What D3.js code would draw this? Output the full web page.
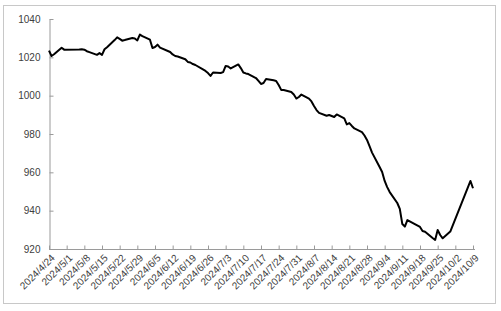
<!DOCTYPE html>
<html>
<head>
<meta charset="utf-8">
<script src="https://cdn.jsdelivr.net/npm/d3@7"></script>
<style>
  html, body { margin: 0; padding: 0; background: #fff; }
  svg { display: block; }
</style>
</head>
<body>
<svg id="chart" width="501" height="311"></svg>
<script>
const dates = [
  "2024-04-24","2024-04-25","2024-04-26","2024-04-29","2024-04-30",
  "2024-05-06","2024-05-07","2024-05-08","2024-05-09","2024-05-10",
  "2024-05-13","2024-05-14","2024-05-15","2024-05-16","2024-05-17",
  "2024-05-20","2024-05-21","2024-05-22","2024-05-23","2024-05-24",
  "2024-05-27","2024-05-28","2024-05-29","2024-05-30","2024-05-31",
  "2024-06-03","2024-06-04","2024-06-05","2024-06-06","2024-06-07",
  "2024-06-11","2024-06-12","2024-06-13","2024-06-14",
  "2024-06-17","2024-06-18","2024-06-19","2024-06-20","2024-06-21",
  "2024-06-24","2024-06-25","2024-06-26","2024-06-27","2024-06-28",
  "2024-07-01","2024-07-02","2024-07-03","2024-07-04","2024-07-05",
  "2024-07-08","2024-07-09","2024-07-10","2024-07-11","2024-07-12",
  "2024-07-15","2024-07-16","2024-07-17","2024-07-18","2024-07-19",
  "2024-07-22","2024-07-23","2024-07-24","2024-07-25","2024-07-26",
  "2024-07-29","2024-07-30","2024-07-31","2024-08-01","2024-08-02",
  "2024-08-05","2024-08-06","2024-08-07","2024-08-08","2024-08-09",
  "2024-08-12","2024-08-13","2024-08-14","2024-08-15","2024-08-16",
  "2024-08-19","2024-08-20","2024-08-21","2024-08-22","2024-08-23",
  "2024-08-26","2024-08-27","2024-08-28","2024-08-29","2024-08-30",
  "2024-09-02","2024-09-03","2024-09-04","2024-09-05","2024-09-06",
  "2024-09-09","2024-09-10","2024-09-11","2024-09-12","2024-09-13",
  "2024-09-18","2024-09-19","2024-09-20",
  "2024-09-23","2024-09-24","2024-09-25","2024-09-26","2024-09-27",
  "2024-09-30","2024-10-08","2024-10-09"
];
const values = [
  1023.5,1020.7,1021.6,1025.0,1024.0,
  1024.1,1024.2,1024.0,1023.2,1022.7,
  1021.3,1022.2,1021.3,1024.2,1025.3,
  1029.0,1030.4,1029.6,1028.7,1029.0,
  1030.1,1029.8,1028.8,1031.9,1031.1,
  1029.2,1024.9,1025.4,1026.6,1025.1,
  1022.8,1021.5,1020.7,1020.4,
  1019.0,1017.6,1017.3,1016.5,1016.0,
  1013.7,1012.9,1011.8,1010.3,1012.1,
  1011.8,1012.3,1015.5,1015.2,1014.2,
  1016.3,1014.4,1012.1,1011.6,1011.3,
  1009.2,1007.7,1006.1,1006.6,1008.7,
  1008.0,1007.7,1005.6,1003.0,1003.0,
  1001.9,1000.6,998.5,999.3,1000.6,
  998.5,997.0,994.6,992.5,991.0,
  989.5,989.9,989.4,988.9,990.2,
  988.1,985.0,985.7,984.2,982.9,
  981.0,979.2,976.9,973.7,970.3,
  962.8,960.2,955.5,952.3,949.7,
  944.0,940.9,933.0,931.7,935.1,
  931.5,929.4,929.0,
  925.7,924.7,929.9,927.3,925.6,
  929.1,955.5,951.7
];
const xTickLabels = [
  "2024/4/24","2024/5/1","2024/5/8","2024/5/15","2024/5/22","2024/5/29",
  "2024/6/5","2024/6/12","2024/6/19","2024/6/26","2024/7/3","2024/7/10",
  "2024/7/17","2024/7/24","2024/7/31","2024/8/7","2024/8/14","2024/8/21",
  "2024/8/28","2024/9/4","2024/9/11","2024/9/18","2024/9/25","2024/10/2","2024/10/9"
];
const yTicks = [920, 940, 960, 980, 1000, 1020, 1040];

const parse = d3.timeParse("%Y-%m-%d");
const parseTick = d3.timeParse("%Y/%m/%d");
const data = dates.map((d, i) => ({ date: parse(d), value: values[i] }));
const tickDates = xTickLabels.map(s => parseTick(s));

const svg = d3.select("#chart");
const mLeft = 49, mRight = 473, mTop = 19, mBottom = 249;

// outer frame
svg.append("rect")
  .attr("x", 3.5).attr("y", 5.5)
  .attr("width", 492).attr("height", 298)
  .attr("fill", "#fff").attr("stroke", "#c8c8c8").attr("stroke-width", 1);

const x = d3.scaleTime()
  .domain([tickDates[0], tickDates[tickDates.length - 1]])
  .range([mLeft, mRight]);
const y = d3.scaleLinear().domain([920, 1040]).range([mBottom, mTop]);

// y axis
const yAxis = d3.axisLeft(y).tickValues(yTicks).tickSizeInner(-4).tickSizeOuter(0).tickPadding(9)
  .tickFormat(d3.format("d"));
const gy = svg.append("g").attr("transform", `translate(${mLeft + 0.5},0)`).call(yAxis);
gy.select(".domain").attr("stroke", "#9a9a9a");
gy.selectAll(".tick line").attr("stroke", "#9a9a9a");
gy.selectAll(".tick text")
  .attr("fill", "#404040")
  .style("font-family", "'Liberation Sans', Arial, sans-serif")
  .style("font-size", "10px");

// x axis
const xAxis = d3.axisBottom(x).tickValues(tickDates).tickSizeInner(-4).tickSizeOuter(0)
  .tickFormat((d, i) => xTickLabels[i]);
const gx = svg.append("g").attr("transform", `translate(0,${mBottom + 0.5})`).call(xAxis);
gx.select(".domain").attr("stroke", "#9a9a9a").attr("d", `M${mLeft},0H${mRight + 2}`);
gx.selectAll(".tick line").attr("stroke", "#9a9a9a");
gx.selectAll(".tick text")
  .attr("fill", "#404040")
  .style("font-family", "'Liberation Sans', Arial, sans-serif")
  .style("font-size", "10px")
  .attr("text-anchor", "end")
  .attr("y", 0).attr("dy", 0)
  .attr("transform", "translate(6,9) rotate(-45)");

// line
const line = d3.line().x(d => x(d.date)).y(d => y(d.value));
svg.append("path")
  .datum(data)
  .attr("fill", "none")
  .attr("stroke", "#000")
  .attr("stroke-width", 2)
  .attr("stroke-linejoin", "round")
  .attr("d", line);
</script>
</body>
</html>
